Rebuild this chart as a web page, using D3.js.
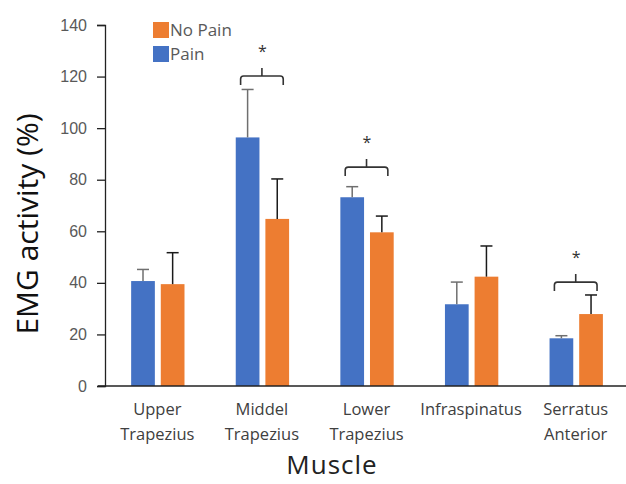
<!DOCTYPE html>
<html>
<head>
<meta charset="utf-8">
<script src="https://cdn.jsdelivr.net/npm/d3@7"></script>
<style>
  body { margin: 0; background: #fff; }
  svg { display: block; font-family: "Open Sans", sans-serif; }
</style>
</head>
<body>
<div id="chart"></div>
<script>
// muscles on the x axis
const muscles = ["Upper Trapezius", "Middel Trapezius", "Lower Trapezius", "Infraspinatus", "Serratus Anterior"];
const series = ["Pain", "No Pain"];

// mean EMG activity (%) and upper error bar
const painMean = [40.7, 96.4, 73.2, 31.7, 18.5];
const painErr = [4.5, 18.6, 4.1, 8.6, 1.0];
const noPainMean = [39.5, 64.8, 59.6, 42.4, 27.9];
const noPainErr = [12.2, 15.5, 6.3, 11.9, 7.4];

// significance brackets: muscle index and height
const sigMuscle = [1, 2, 4];
const sigLevel = [120.2, 84.9, 40.3];

const yTicks = [0, 20, 40, 60, 80, 100, 120, 140];

const colors = { "Pain": "#4472C4", "No Pain": "#ED7D31" };
const errColors = { "Pain": "#6f6f6f", "No Pain": "#1a1a1a" };

const W = 626, H = 484;
const margin = { top: 25, right: -2, bottom: 98, left: 105 };
const width = W - margin.left - margin.right,
    height = H - margin.top - margin.bottom;

const svg = d3.select("#chart").append("svg")
    .attr("width", W)
    .attr("height", H);

const g = svg.append("g")
    .attr("transform", "translate(" + margin.left + "," + margin.top + ")");

const x0 = d3.scaleBand().domain(muscles).range([0, width]).padding(0);
const x1 = d3.scaleBand().domain(series)
    .range([x0.bandwidth() * 0.25, x0.bandwidth() * 0.76])
    .paddingInner(0.2);
const y = d3.scaleLinear().domain([0, 140]).range([height, 0]);

// y axis
const yAxis = g.append("g")
    .call(d3.axisLeft(y).tickValues(yTicks).tickSize(8).tickPadding(10));
yAxis.select(".domain").attr("stroke", "#222").attr("stroke-width", 1.3);
yAxis.selectAll(".tick line").attr("stroke", "#222").attr("stroke-width", 1.3);
yAxis.selectAll(".tick text")
    .attr("fill", "#595959")
    .style("font-size", "16px");

// bars
const rows = [];
muscles.forEach((m, i) => {
    rows.push({ muscle: m, key: "Pain", mean: painMean[i], err: painErr[i] });
    rows.push({ muscle: m, key: "No Pain", mean: noPainMean[i], err: noPainErr[i] });
});

g.selectAll(".bar")
    .data(rows)
    .enter().append("rect")
    .attr("class", "bar")
    .attr("x", d => x0(d.muscle) + x1(d.key))
    .attr("y", d => y(d.mean))
    .attr("width", x1.bandwidth())
    .attr("height", d => y(0) - y(d.mean))
    .attr("fill", d => colors[d.key]);

// error bars (upper only)
const cap = 6;
const err = g.selectAll(".err")
    .data(rows)
    .enter().append("g")
    .attr("class", "err")
    .attr("stroke", d => errColors[d.key])
    .attr("stroke-width", 1.5);
err.append("line")
    .attr("x1", d => x0(d.muscle) + x1(d.key) + x1.bandwidth() / 2)
    .attr("x2", d => x0(d.muscle) + x1(d.key) + x1.bandwidth() / 2)
    .attr("y1", d => y(d.mean))
    .attr("y2", d => y(d.mean + d.err));
err.append("line")
    .attr("x1", d => x0(d.muscle) + x1(d.key) + x1.bandwidth() / 2 - cap)
    .attr("x2", d => x0(d.muscle) + x1(d.key) + x1.bandwidth() / 2 + cap)
    .attr("y1", d => y(d.mean + d.err))
    .attr("y2", d => y(d.mean + d.err));

// x axis line
g.append("line")
    .attr("x1", -7)
    .attr("x2", width)
    .attr("y1", y(0))
    .attr("y2", y(0))
    .attr("stroke", "#222")
    .attr("stroke-width", 1.3);

// x category labels (two lines)
const xl = g.selectAll(".xlab")
    .data(muscles)
    .enter().append("text")
    .attr("class", "xlab")
    .attr("text-anchor", "middle")
    .attr("fill", "#404040")
    .style("font-size", "16.5px")
    .attr("transform", d => "translate(" + (x0(d) + x0.bandwidth() / 2) + "," + (y(0) + 29) + ")");
xl.each(function(d) {
    const parts = d === "Infraspinatus" ? [d] : d.split(" ");
    d3.select(this).selectAll("tspan")
        .data(parts)
        .enter().append("tspan")
        .attr("x", 0)
        .attr("dy", (p, i) => i === 0 ? 0 : 25)
        .text(p => p);
});

// significance brackets
const sig = g.selectAll(".sig")
    .data(sigMuscle.map((m, i) => ({ muscle: muscles[m], level: sigLevel[i] })))
    .enter().append("g")
    .attr("class", "sig");
sig.append("path")
    .attr("fill", "none")
    .attr("stroke", "#333")
    .attr("stroke-width", 1.6)
    .attr("d", d => {
        const xa = x0(d.muscle) + x1("Pain") + x1.bandwidth() / 2 - 7;
        const xb = x0(d.muscle) + x1("No Pain") + x1.bandwidth() / 2 + 6;
        const xm = (xa + xb) / 2;
        const yy = y(d.level);
        const r = 3;
        return "M" + xa + "," + (yy + 9) +
            " L" + xa + "," + (yy + r) +
            " Q" + xa + "," + yy + " " + (xa + r) + "," + yy +
            " L" + (xb - r) + "," + yy +
            " Q" + xb + "," + yy + " " + xb + "," + (yy + r) +
            " L" + xb + "," + (yy + 9) +
            " M" + xm + "," + yy + " L" + xm + "," + (yy - 8);
    });
sig.append("text")
    .attr("x", d => x0(d.muscle) + (x1("Pain") + x1("No Pain") + x1.bandwidth()) / 2)
    .attr("y", d => y(d.level) - 19)
    .attr("text-anchor", "middle")
    .attr("fill", "#333")
    .style("font-size", "16px")
    .text("*");

// legend
const legendKeys = ["No Pain", "Pain"];
const leg = svg.selectAll(".leg")
    .data(legendKeys)
    .enter().append("g")
    .attr("class", "leg")
    .attr("transform", (d, i) => "translate(153," + (22 + i * 24) + ")");
leg.append("rect")
    .attr("width", 16)
    .attr("height", 16)
    .attr("fill", d => colors[d]);
leg.append("text")
    .attr("x", 17)
    .attr("y", 14)
    .attr("fill", "#595959")
    .style("font-size", "17px")
    .text(d => d);

// axis titles
svg.append("text")
    .attr("transform", "translate(38,224) rotate(-90)")
    .attr("text-anchor", "middle")
    .attr("fill", "#111")
    .style("font-size", "30px")
    .text("EMG activity (%)");

svg.append("text")
    .attr("x", 332)
    .attr("y", 474)
    .attr("text-anchor", "middle")
    .attr("fill", "#222")
    .style("font-size", "26px")
    .style("letter-spacing", "1px")
    .text("Muscle");
</script>
</body>
</html>
